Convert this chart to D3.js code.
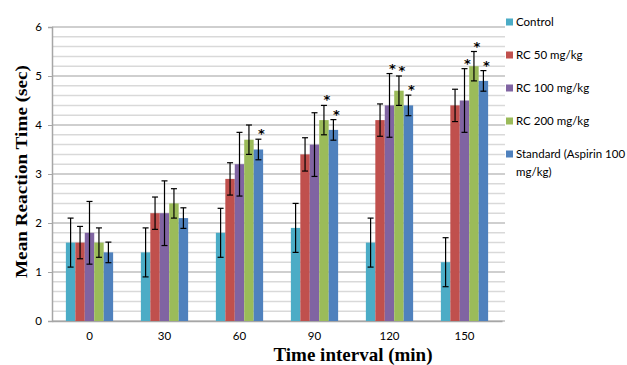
<!DOCTYPE html>
<html><head><meta charset="utf-8">
<script src="https://cdn.jsdelivr.net/npm/d3@7/dist/d3.min.js"></script>
<style>body{margin:0;background:#fff}svg{display:block}</style>
</head><body>
<svg id="c" width="627" height="365"></svg>
<script>
const categories = ["0","30","60","90","120","150"];
const seriesNames = ["Control","RC 50 mg/kg","RC 100 mg/kg","RC 200 mg/kg","Standard (Aspirin 100 mg/kg)"];
const control = [1.6,1.4,1.8,1.9,1.6,1.2];
const rc50    = [1.6,2.2,2.9,3.4,4.1,4.4];
const rc100   = [1.8,2.2,3.2,3.6,4.4,4.5];
const rc200   = [1.6,2.4,3.7,4.1,4.7,5.2];
const standard= [1.4,2.1,3.5,3.9,4.4,4.9];
const errControl = [0.5,0.5,0.5,0.5,0.5,0.5];
const errRc50    = [0.33,0.33,0.33,0.34,0.33,0.33];
const errRc100   = [0.64,0.66,0.65,0.65,0.65,0.65];
const errRc200   = [0.3,0.3,0.3,0.3,0.3,0.3];
const errStd     = [0.21,0.21,0.21,0.21,0.21,0.21];
const sigControl = [0,0,0,0,0,0];
const sigRc50    = [0,0,0,0,0,0];
const sigRc100   = [0,0,0,0,1,1];
const sigRc200   = [0,0,0,1,1,1];
const sigStd     = [0,0,1,1,1,1];
const yTicks = [0,1,2,3,4,5,6];
const colors = ["#4BACC6","#C0504D","#8064A2","#9BBB59","#4F81BD"];

const values = [control, rc50, rc100, rc200, standard];
const errs = [errControl, errRc50, errRc100, errRc200, errStd];
const sigs = [sigControl, sigRc50, sigRc100, sigRc200, sigStd];

const svg = d3.select("#c");
const L = 52, R = 502, T = 27, B = 321;
const x = d3.scaleBand().domain(categories).range([L, R]).paddingInner(0.37).paddingOuter(0.185);
const xi = d3.scaleBand().domain(d3.range(seriesNames.length)).range([0, x.bandwidth()]);
const y = d3.scaleLinear().domain([0, 6]).range([B, T]);

// grid
const minor = d3.range(0, 6.0001, 0.2).map(v => +v.toFixed(1));
svg.append("g").selectAll("line").data(minor).join("line")
  .attr("x1", L).attr("x2", R + 3)
  .attr("y1", d => y(d)).attr("y2", d => y(d))
  .attr("stroke", d => Number.isInteger(d) ? "#bfbfbf" : "#d9d9d9")
  .attr("stroke-width", 1.5);

// axes
const yAxis = svg.append("g").attr("transform", `translate(${L},0)`)
  .call(d3.axisLeft(y).tickValues(yTicks).tickSize(4).tickPadding(6).tickFormat(d3.format("d")));
yAxis.select(".domain").attr("stroke", "#a6a6a6").attr("stroke-width", 1.5);
yAxis.selectAll(".tick line").attr("stroke", "#a6a6a6");
yAxis.selectAll("text").attr("font-family", "Lato, 'Open Sans', sans-serif").attr("font-size", 11.5).attr("fill", "#000");

const xAxis = svg.append("g").attr("transform", `translate(0,${B})`)
  .call(d3.axisBottom(x).tickSize(0).tickPadding(11));
xAxis.select(".domain").attr("stroke", "#a6a6a6").attr("stroke-width", 1.5);
xAxis.selectAll("text").attr("font-family", "Lato, 'Open Sans', sans-serif").attr("font-size", 11.5).attr("fill", "#000");

// bars
const flat = [];
values.forEach((arr, s) => arr.forEach((v, i) => flat.push({s, i, v, e: errs[s][i], sig: sigs[s][i]})));
const bx = d => x(categories[d.i]) + xi(d.s);
svg.append("g").selectAll("rect").data(flat).join("rect")
  .attr("x", bx).attr("width", xi.bandwidth())
  .attr("y", d => y(d.v)).attr("height", d => B - y(d.v))
  .attr("fill", d => colors[d.s]);

// error bars
const eg = svg.append("g").attr("stroke", "#000").attr("stroke-width", 1.2);
flat.forEach(d => {
  const cx = bx(d) + xi.bandwidth() / 2;
  const t = y(d.v + d.e), b = y(d.v - d.e);
  eg.append("line").attr("x1", cx).attr("x2", cx).attr("y1", t).attr("y2", b);
  eg.append("line").attr("x1", cx - 3).attr("x2", cx + 3).attr("y1", t).attr("y2", t);
  eg.append("line").attr("x1", cx - 3).attr("x2", cx + 3).attr("y1", b).attr("y2", b);
});

// significance stars
svg.append("g").selectAll("text").data(flat.filter(d => d.sig)).join("text")
  .attr("x", d => bx(d) + xi.bandwidth() / 2 + 3)
  .attr("y", d => y(d.v + d.e) - 1)
  .attr("text-anchor", "middle")
  .attr("font-family", "DejaVu Sans, sans-serif").attr("font-weight", "bold").attr("font-size", 13)
  .text("*");

// axis titles
svg.append("text").attr("transform", `translate(27,171.5) rotate(-90)`)
  .attr("text-anchor", "middle")
  .attr("font-family", "'Liberation Serif', 'Times New Roman', serif").attr("font-weight", "bold").attr("font-size", 17.5)
  .attr("textLength", 213).attr("lengthAdjust", "spacingAndGlyphs")
  .text("Mean Reaction Time (sec)");
svg.append("text").attr("x", 353).attr("y", 361)
  .attr("text-anchor", "middle")
  .attr("font-family", "'Liberation Serif', 'Times New Roman', serif").attr("font-weight", "bold").attr("font-size", 19)
  .text("Time interval (min)");

// legend
const lg = svg.append("g");
const legendLines = [["Control"],["RC 50 mg/kg"],["RC 100 mg/kg"],["RC 200 mg/kg"],["Standard (Aspirin 100","mg/kg)"]];
legendLines.forEach((lines, s) => {
  const yy = 22 + s * 33;
  lg.append("rect").attr("x", 506).attr("y", yy - 3.5).attr("width", 7).attr("height", 7).attr("fill", colors[s]);
  lines.forEach((ln, k) => {
    lg.append("text").attr("x", 516).attr("y", yy + 4 + k * 18)
      .attr("font-family", "Lato, 'Open Sans', sans-serif").attr("font-size", 11.5).attr("fill", "#000")
      .text(ln);
  });
});
</script>
</body></html>
